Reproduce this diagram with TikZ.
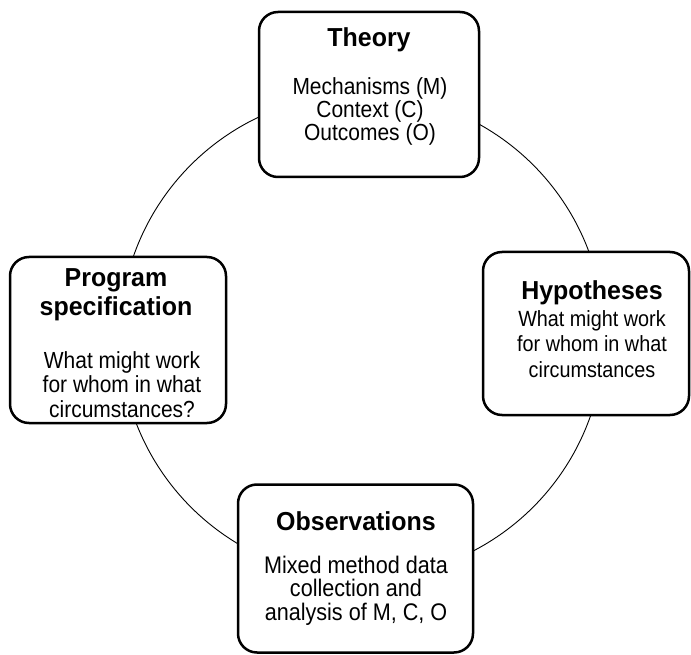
\documentclass[tikz,border=0pt]{standalone}
\usepackage{fontspec}
\setmainfont{Liberation Sans}
\newfontfamily\headfam[FakeStretch=0.96]{Liberation Sans}
\newfontfamily\bodyfam[FakeStretch=0.9]{Liberation Sans}
\begin{document}
\begin{tikzpicture}[x=1pt,y=-1pt,
  stage/.style={draw=black, line width=2.5pt, rounded corners=19pt, fill=white, inner sep=0pt},
  ttl/.style={font=\headfam\fontsize{26}{28}\selectfont\bfseries, inner sep=0pt, anchor=base},
  body/.style={font=\bodyfam\fontsize{23.3}{25}\selectfont, inner sep=0pt, anchor=base},
  ring/.style={draw=black, line width=0.9pt, circle, inner sep=0pt}
]
\useasboundingbox (0,0) rectangle (691,655);

% the cycle behind the four stages
\node[ring, minimum size=484pt] (cycle) at (362,336) {};

% stage boxes
\node[stage, minimum width=220pt, minimum height=165pt] (theory) at (369,94.5) {};
\node[stage, minimum width=206pt, minimum height=163pt] (hyp) at (586,333.5) {};
\node[stage, minimum width=235pt, minimum height=168pt] (obs) at (355.5,568.5) {};
\node[stage, minimum width=216pt, minimum height=166pt] (prog) at (118,340) {};

% Theory
\node[ttl] (theory-t) at (369,47) {Theory};
\foreach \t [count=\i from 0] in {Mechanisms (M), Context (C), Outcomes (O)}
  \node[body] (theory-\i) at (370,95+23*\i) {\t};

% Hypotheses
\node[ttl] (hyp-t) at (592,299) {Hypotheses};
\foreach \t [count=\i from 0] in {What might work, for whom in what, circumstances}
  \node[body, font=\bodyfam\fontsize{22}{24}\selectfont] (hyp-\i) at (592,326+25.5*\i) {\t};

% Observations
\node[ttl] (obs-t) at (356,530) {Observations};
\foreach \t [count=\i from 0] in {Mixed method data, collection and, {analysis of M, C, O}}
  \node[body, font=\bodyfam\fontsize{24}{26}\selectfont] (obs-\i) at (356,573+23.5*\i) {\t};

% Program specification
\node[ttl] (prog-t0) at (116,287) {Program};
\node[ttl] (prog-t1) at (116,315) {specification};
\foreach \t [count=\i from 0] in {What might work, for whom in what, circumstances?}
  \node[body] (prog-\i) at (122,368+24.5*\i) {\t};
\end{tikzpicture}
\end{document}
